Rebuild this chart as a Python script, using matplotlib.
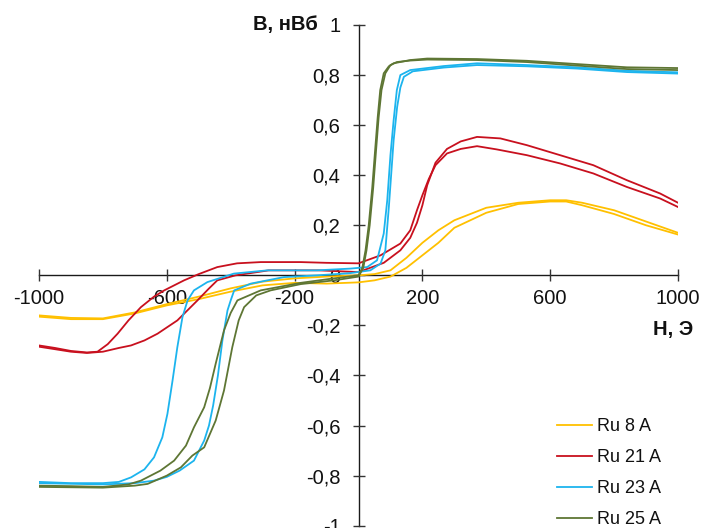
import matplotlib
matplotlib.use("Agg")
import matplotlib.pyplot as plt
from matplotlib.ticker import FixedLocator, FuncFormatter

plt.rcParams['font.family'] = ['Liberation Sans', 'DejaVu Sans']
plt.rcParams['axes.unicode_minus'] = False

# ---- data ----
# Ru 8 A
ru8_h1 = [-1000, -900, -800, -700, -600, -500, -400, -300, -200, -100, 0, 50, 100, 150, 200, 250, 300, 400, 500, 600, 650, 700, 800, 900, 1000]
ru8_b1 = [-0.16, -0.17, -0.172, -0.148, -0.115, -0.085, -0.052, -0.025, -0.012, -0.005, 0.0, 0.005, 0.02, 0.07, 0.13, 0.18, 0.22, 0.27, 0.29, 0.30, 0.30, 0.29, 0.26, 0.215, 0.17]
ru8_h2 = [-1000, -900, -800, -700, -600, -500, -400, -300, -200, -100, 0, 50, 100, 150, 200, 250, 300, 400, 500, 600, 650, 700, 800, 900, 1000]
ru8_b2 = [-0.165, -0.175, -0.175, -0.152, -0.12, -0.095, -0.065, -0.04, -0.03, -0.033, -0.028, -0.02, -0.005, 0.03, 0.08, 0.13, 0.19, 0.25, 0.285, 0.295, 0.295, 0.28, 0.245, 0.2, 0.163]

# Ru 21 A
ru21_h1 = [-1000, -950, -900, -850, -817, -785, -754, -720, -681, -640, -608, -546, -500, -442, -380, -306, -181, -100, 0, 69, 131, 162, 183, 200, 220, 241, 277, 320, 371, 433, 527, 631, 735, 840, 944, 1000]
ru21_b1 = [-0.28, -0.29, -0.302, -0.308, -0.305, -0.275, -0.233, -0.18, -0.127, -0.085, -0.06, -0.02, 0.005, 0.033, 0.048, 0.053, 0.053, 0.05, 0.048, 0.08, 0.127, 0.18, 0.26, 0.32, 0.385, 0.44, 0.487, 0.505, 0.516, 0.503, 0.48, 0.447, 0.407, 0.353, 0.307, 0.273]
ru21_h2 = [-1000, -950, -900, -850, -800, -750, -712, -670, -629, -567, -504, -470, -442, -385, -281, -125, 0, 79, 131, 162, 183, 200, 215, 241, 277, 320, 371, 444, 527, 631, 735, 840, 944, 1000]
ru21_b2 = [-0.285, -0.295, -0.305, -0.31, -0.305, -0.29, -0.28, -0.26, -0.233, -0.18, -0.1, -0.055, -0.02, 0.0, 0.02, 0.02, 0.013, 0.05, 0.10, 0.15, 0.21, 0.28, 0.36, 0.45, 0.505, 0.535, 0.553, 0.547, 0.52, 0.48, 0.44, 0.38, 0.327, 0.29]

# Ru 23 A
ru23_h1 = [-1000, -900, -800, -750, -712, -670, -640, -614, -598, -582, -567, -551, -535, -515, -473, -390, -285, -129, -25, 27, 58, 79, 90, 100, 110, 120, 131, 162, 267, 371, 527, 683, 840, 1000]
ru23_b1 = [-0.825, -0.83, -0.83, -0.825, -0.807, -0.775, -0.727, -0.647, -0.553, -0.42, -0.287, -0.167, -0.1, -0.06, -0.027, 0.007, 0.02, 0.02, 0.027, 0.033, 0.06, 0.167, 0.3, 0.48, 0.62, 0.74, 0.8, 0.82, 0.836, 0.847, 0.84, 0.831, 0.817, 0.811]
ru23_h2 = [-1000, -800, -700, -640, -600, -560, -515, -483, -468, -455, -440, -426, -410, -400, -389, -337, -233, -129, -25, 37, 69, 84, 95, 110, 121, 131, 142, 170, 267, 371, 527, 683, 840, 1000]
ru23_b2 = [-0.83, -0.835, -0.83, -0.82, -0.805, -0.78, -0.74, -0.66, -0.6, -0.52, -0.4, -0.26, -0.14, -0.1, -0.06, -0.033, -0.007, 0.0, 0.009, 0.02, 0.047, 0.1, 0.273, 0.54, 0.673, 0.75, 0.793, 0.815, 0.83, 0.84, 0.835, 0.826, 0.812, 0.806]

# Ru 25 A
ru25_h1 = [-1000, -900, -800, -720, -681, -620, -577, -540, -515, -483, -465, -447, -421, -400, -379, -306, -181, -77, 0, 12, 22, 32, 43, 52, 60, 68, 79, 95, 110, 162, 215, 371, 527, 683, 840, 1000]
ru25_b1 = [-0.84, -0.842, -0.845, -0.835, -0.82, -0.78, -0.74, -0.68, -0.607, -0.527, -0.45, -0.353, -0.22, -0.15, -0.1, -0.06, -0.03, -0.012, 0.0, 0.03, 0.1, 0.2, 0.35, 0.5, 0.63, 0.74, 0.807, 0.835, 0.847, 0.86, 0.866, 0.864, 0.857, 0.844, 0.831, 0.828]
ru25_h2 = [-1000, -800, -700, -660, -600, -556, -520, -483, -447, -421, -395, -375, -358, -320, -275, -181, -77, 0, 15, 25, 35, 46, 55, 63, 72, 84, 100, 120, 162, 215, 371, 527, 683, 840, 1000]
ru25_b2 = [-0.845, -0.848, -0.84, -0.833, -0.8, -0.767, -0.72, -0.687, -0.58, -0.46, -0.287, -0.18, -0.127, -0.08, -0.06, -0.035, -0.02, -0.005, 0.03, 0.1, 0.2, 0.35, 0.5, 0.63, 0.74, 0.807, 0.84, 0.852, 0.858, 0.862, 0.86, 0.852, 0.838, 0.824, 0.82]

labels = ["Ru 8 A", "Ru 21 A", "Ru 23 A", "Ru 25 A"]
colors = ["#FFC000", "#C8101E", "#1CB4EE", "#5E7634"]

x_ticks = [-1000, -600, -200, 200, 600, 1000]
y_ticks = [-1, -0.8, -0.6, -0.4, -0.2, 0, 0.2, 0.4, 0.6, 0.8, 1]

# ---- figure ----
W, H = 702, 528
fig = plt.figure(figsize=(W / 100, H / 100), dpi=100)
ax = fig.add_axes([39 / W, (H - 525.7) / H, (678 - 39) / W, (525.7 - 25) / H])

series = [
    ((ru8_h1, ru8_b1), (ru8_h2, ru8_b2)),
    ((ru21_h1, ru21_b1), (ru21_h2, ru21_b2)),
    ((ru23_h1, ru23_b1), (ru23_h2, ru23_b2)),
    ((ru25_h1, ru25_b1), (ru25_h2, ru25_b2)),
]
handles = []
for (b1, b2), lab, col in zip(series, labels, colors):
    l, = ax.plot(b1[0], b1[1], color=col, lw=1.3, label=lab, solid_joinstyle='round')
    ax.plot(b2[0], b2[1], color=col, lw=1.3, solid_joinstyle='round')
    handles.append(l)

ax.set_xlim(-1000, 1000)
ax.set_ylim(-1, 1)
for s in ['top', 'right']:
    ax.spines[s].set_visible(False)
ax.spines['left'].set_position('zero')
ax.spines['bottom'].set_position('zero')
for s in ['left', 'bottom']:
    ax.spines[s].set_color('#1a1a1a')
    ax.spines[s].set_linewidth(1.0)
    ax.spines[s].set_zorder(1.5)

ax.xaxis.set_major_locator(FixedLocator(x_ticks))
ax.yaxis.set_major_locator(FixedLocator(y_ticks))

def yfmt(v, pos):
    if abs(v - round(v)) < 1e-9:
        return "%d" % round(v)
    return ("%.1f" % v).replace('.', ',')

ax.yaxis.set_major_formatter(FuncFormatter(yfmt))
ax.xaxis.set_major_formatter(FuncFormatter(lambda v, p: "%d" % round(v)))
ax.tick_params(axis='both', direction='inout', length=8, width=1.0, color='#333333',
               labelsize=14.5, labelcolor='#111111')
ax.tick_params(axis='y', pad=9)
ax.tick_params(axis='x', pad=6)

fig.text(318 / W, 1 - 30 / H, "B, нВб", ha='right', va='baseline', fontsize=14.5,
         fontweight='bold', color='#111111')
fig.text(693 / W, 1 - 335 / H, "H, Э", ha='right', va='baseline', fontsize=14.5,
         fontweight='bold', color='#111111')

leg = fig.legend(handles=handles, labels=labels, loc='upper left',
                 bbox_to_anchor=(557 / W, 1 - 418 / H), frameon=False,
                 fontsize=13, handlelength=1.95, handletextpad=0.25,
                 labelspacing=0.78, borderpad=0, borderaxespad=0)
for t in leg.get_texts():
    t.set_color('#111111')

fig.savefig("out.png", dpi=100)
